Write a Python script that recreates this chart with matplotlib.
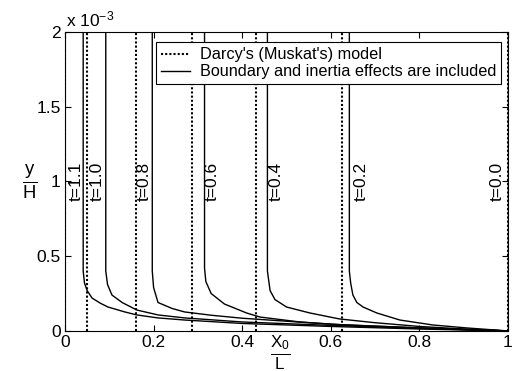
import matplotlib
matplotlib.use("Agg")
import matplotlib.pyplot as plt
from matplotlib.ticker import FuncFormatter

plt.rcParams["font.family"] = ["Liberation Sans", "DejaVu Sans"]
plt.rcParams["mathtext.fontset"] = "custom"
plt.rcParams["mathtext.rm"] = "Liberation Sans"
plt.rcParams["mathtext.it"] = "Liberation Sans"

# Darcy (Muskat) front positions, one per time
darcy_t = ["1.1", "1.0", "0.8", "0.6", "0.4", "0.2", "0.0"]
darcy_x = [0.0, 0.05, 0.16, 0.287, 0.432, 0.626, 1.0]

# boundary + inertia curves (y in units of 1e-3)
x_t11 = [0.041, 0.041, 0.044, 0.050, 0.061, 0.080, 0.097, 0.135, 0.162, 0.21, 0.27, 0.40, 0.60, 0.80, 1.0]
y_t11 = [2.0, 0.40, 0.32, 0.27, 0.22, 0.185, 0.16, 0.127, 0.107, 0.087, 0.073, 0.05, 0.03, 0.013, 0.0]
x_t10 = [0.092, 0.092, 0.096, 0.106, 0.129, 0.162, 0.21, 0.27, 0.40, 0.60, 0.80, 1.0]
y_t10 = [2.0, 0.40, 0.31, 0.24, 0.19, 0.14, 0.107, 0.087, 0.06, 0.037, 0.017, 0.0]
x_t08 = [0.197, 0.197, 0.200, 0.21, 0.242, 0.27, 0.33, 0.40, 0.50, 0.60, 0.80, 1.0]
y_t08 = [2.0, 0.40, 0.29, 0.19, 0.15, 0.127, 0.105, 0.085, 0.065, 0.045, 0.02, 0.0]
x_t06 = [0.315, 0.315, 0.318, 0.33, 0.36, 0.41, 0.44, 0.53, 0.63, 0.80, 1.0]
y_t06 = [2.0, 0.42, 0.33, 0.25, 0.18, 0.12, 0.093, 0.06, 0.04, 0.02, 0.0]
x_t04 = [0.457, 0.457, 0.463, 0.474, 0.50, 0.553, 0.62, 0.70, 0.80, 0.90, 1.0]
y_t04 = [2.0, 0.40, 0.27, 0.21, 0.16, 0.12, 0.08, 0.055, 0.03, 0.013, 0.0]
x_t02 = [0.642, 0.642, 0.645, 0.650, 0.659, 0.673, 0.704, 0.756, 0.83, 0.907, 1.0]
y_t02 = [2.0, 0.40, 0.32, 0.24, 0.19, 0.16, 0.12, 0.073, 0.04, 0.02, 0.0]
x_t00 = [1.0, 1.0]
y_t00 = [2.0, 0.0]

label_t = ["t=1.1", "t=1.0", "t=0.8", "t=0.6", "t=0.4", "t=0.2", "t=0.0"]
label_x = [0.025, 0.072, 0.178, 0.332, 0.478, 0.668, 0.975]
label_y = 1.0

fig = plt.figure(figsize=(5.12, 3.71), dpi=100)
ax = fig.add_axes([0.127, 0.108, 0.865, 0.806])

for i, xd in enumerate(darcy_x):
    ax.plot([xd, xd], [0, 2], color="black", ls=(0, (1, 1)), lw=1.5,
            label="Darcy's (Muskat's) model" if i == 0 else None)

curves = [(x_t11, y_t11), (x_t10, y_t10), (x_t08, y_t08), (x_t06, y_t06),
          (x_t04, y_t04), (x_t02, y_t02), (x_t00, y_t00)]
for i, (xs, ys) in enumerate(curves):
    ax.plot(xs, ys, color="black", lw=1.0,
            label="Boundary and inertia effects are included" if i == 0 else None)

for txt, lx in zip(label_t, label_x):
    ax.text(lx, label_y, txt, rotation=90, ha="center", va="center", fontsize=12.5)

ax.set_xlim(0, 1)
ax.set_ylim(0, 2)
ax.set_xticks([0, 0.2, 0.4, 0.6, 0.8, 1])
ax.set_yticks([0, 0.5, 1, 1.5, 2])
fmt = FuncFormatter(lambda v, p: f"{v:g}")
ax.xaxis.set_major_formatter(fmt)
ax.yaxis.set_major_formatter(fmt)
ax.tick_params(direction="in", top=True, right=True, length=4, labelsize=12.5, pad=3)
for s in ax.spines.values():
    s.set_linewidth(0.8)

ax.text(0.003, 1.008, r"x 10$^{-3}$", transform=ax.transAxes, fontsize=12.5, ha="left", va="bottom")

ax.set_xlabel(r"$\frac{X_0}{L}$", fontsize=17.5)
ax.xaxis.set_label_coords(0.485, -0.008)
ax.set_ylabel(r"$\frac{y}{H}$", fontsize=19, rotation=0, va="center")
ax.yaxis.set_label_coords(-0.08, 0.50)

leg = ax.legend(loc="upper right", bbox_to_anchor=(0.985, 0.965), fontsize=11.7,
                frameon=True, fancybox=False, edgecolor="black", framealpha=1,
                handlelength=1.8, labelspacing=0.12, borderpad=0.3, handletextpad=0.6,
                borderaxespad=0)
leg.get_frame().set_linewidth(0.8)

fig.savefig("out.png", dpi=100)
